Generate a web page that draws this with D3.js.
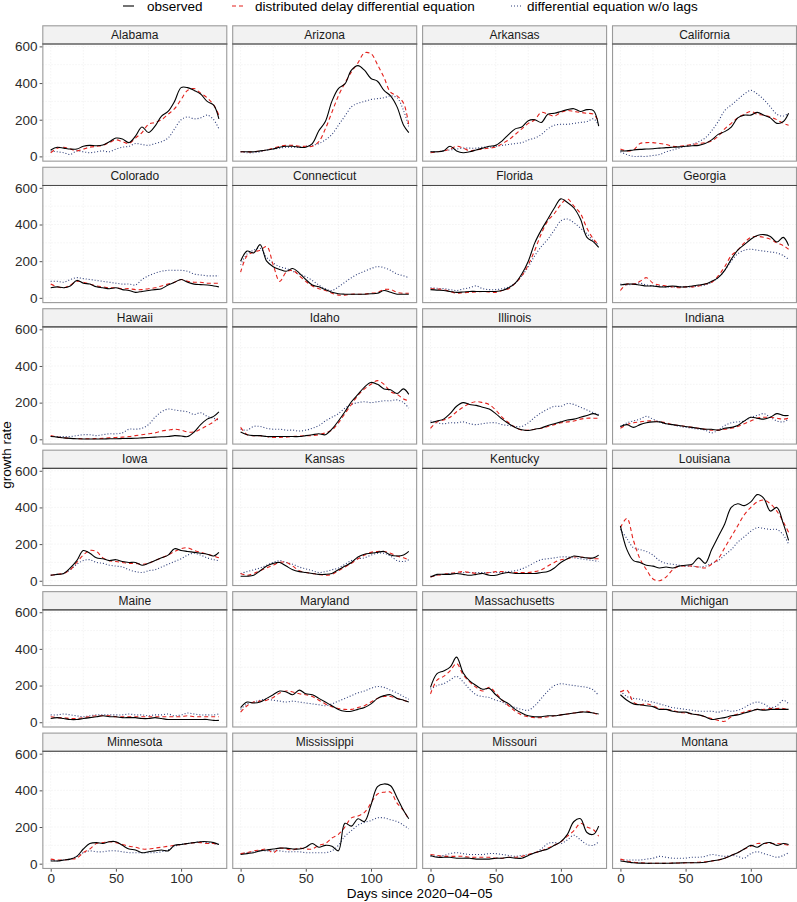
<!DOCTYPE html>
<html><head><meta charset="utf-8">
<script src="https://cdn.jsdelivr.net/npm/d3@7"></script>
<style>body{margin:0;background:#fff} svg{display:block} text{font-family:"Liberation Sans",Arial,Helvetica,sans-serif}</style>
</head><body><svg id="c" width="797" height="902"></svg>
<script>
const days = [0,5,10,15,20,25,30,35,40,45,50,55,60,65,70,75,80,85,90,95,100,105,110,115,120,125,129];
const states = ["Alabama","Arizona","Arkansas","California","Colorado","Connecticut","Florida","Georgia",
  "Hawaii","Idaho","Illinois","Indiana","Iowa","Kansas","Kentucky","Louisiana",
  "Maine","Maryland","Massachusetts","Michigan","Minnesota","Mississippi","Missouri","Montana"];
const seriesNames = ["observed","distributed delay differential equation","differential equation w/o lags"];
const xTicks = [0,50,100];
const yTicks = [0,200,400,600];
const xGrid = [0,25,50,75,100,125];
const yGrid = [0,100,200,300,400,500,600];

// observed growth rate, one row per state (order of `states`)
const observed = [
 [35,50,45,40,40,55,60,58,62,80,100,95,75,110,160,130,165,220,245,300,375,375,360,340,300,280,205],
 [25,25,25,30,35,40,50,55,55,50,50,70,140,190,300,370,395,470,495,470,425,410,360,330,270,170,130],
 [25,25,30,55,30,20,25,35,45,55,60,85,120,150,160,195,200,185,230,235,245,255,260,245,255,250,165],
 [30,30,35,38,40,42,45,48,50,52,55,58,60,70,90,120,135,160,210,225,225,240,225,210,180,190,235],
 [55,60,55,65,95,80,75,60,55,50,55,45,40,30,35,40,45,50,70,85,100,85,75,72,70,65,60],
 [200,255,245,290,200,170,155,145,160,135,100,70,60,45,30,22,20,20,20,20,22,25,40,30,20,20,20],
 [45,42,40,35,30,32,35,35,35,35,35,40,55,80,130,200,300,370,430,490,540,520,490,430,330,305,275],
 [70,75,75,70,65,65,60,60,65,60,60,65,70,75,90,110,150,210,260,290,320,340,345,335,305,330,285],
 [15,12,8,5,3,2,2,2,2,3,3,4,5,6,8,10,12,14,15,20,18,15,40,80,110,125,150],
 [40,25,20,20,15,15,15,15,15,15,20,25,30,25,55,100,150,205,245,285,310,300,275,270,250,275,245],
 [90,100,110,140,180,200,190,185,175,165,140,110,85,65,52,48,55,62,75,85,95,105,110,120,130,140,130],
 [70,80,65,80,90,95,95,85,80,75,70,65,60,55,55,50,60,65,75,100,120,115,110,120,140,130,130],
 [30,35,40,70,110,165,150,125,120,110,115,105,100,100,85,95,110,125,140,175,165,160,155,150,145,135,155],
 [25,25,30,55,80,95,100,80,60,50,45,40,35,35,40,60,80,100,130,145,150,155,160,140,135,140,160],
 [20,35,35,35,40,35,30,35,40,30,30,40,45,40,40,40,40,45,50,70,100,120,135,130,125,125,140],
 [300,170,110,100,85,80,70,75,70,80,85,90,125,95,170,240,310,400,420,410,430,470,450,380,400,310,220],
 [20,25,20,15,15,20,25,30,35,30,30,25,25,25,20,20,25,20,15,15,15,15,15,15,15,10,10],
 [80,110,105,110,130,150,170,165,150,175,155,150,130,110,90,70,60,60,70,80,100,130,145,150,130,120,110],
 [190,265,280,300,355,270,225,200,180,185,150,120,100,70,50,35,30,30,35,35,40,45,50,55,55,50,45],
 [150,120,100,95,90,85,70,70,60,55,55,45,40,30,15,20,25,35,40,50,60,70,65,70,70,70,70],
 [15,15,20,25,40,80,110,115,110,120,120,100,80,75,60,65,70,75,70,100,105,110,115,120,120,115,105],
 [50,55,60,70,75,80,85,85,80,80,90,110,90,100,95,70,220,205,245,230,320,420,435,425,360,290,245],
 [45,35,35,35,30,30,30,25,25,25,30,30,35,30,30,45,60,70,80,100,120,160,230,245,170,160,205],
 [15,10,5,3,2,2,2,2,3,4,5,5,5,8,15,20,30,45,60,80,100,90,110,115,100,110,105]
];
// distributed delay differential equation fit
const ddeFit = [
 [20,45,50,40,30,40,50,55,60,75,90,80,70,100,130,175,185,200,230,260,310,360,370,345,320,280,225],
 [25,25,25,30,35,45,55,60,60,55,55,55,80,150,240,330,400,460,510,565,560,500,430,350,330,290,170],
 [20,25,30,40,55,45,30,35,40,45,50,70,90,120,150,180,200,240,230,220,240,250,245,240,235,230,190],
 [40,30,35,70,75,75,70,65,55,55,60,65,70,75,85,110,150,180,210,230,245,230,225,215,200,180,170],
 [75,60,55,70,90,85,75,65,60,55,55,50,50,45,45,50,55,65,75,85,100,90,85,85,80,80,80],
 [140,230,250,260,280,180,90,140,150,120,90,65,50,40,25,15,15,20,20,20,25,30,45,45,30,25,25],
 [50,48,45,35,25,28,30,32,35,32,30,40,50,80,120,180,260,350,420,460,510,540,500,460,380,320,290],
 [40,75,75,90,110,80,70,65,60,55,60,60,65,75,85,120,170,230,260,300,330,335,330,320,300,285,265],
 [20,12,8,5,4,3,3,4,5,8,10,12,15,20,25,30,35,45,50,55,50,40,40,55,75,95,120],
 [65,25,20,20,15,10,10,12,15,18,20,20,25,35,50,90,140,190,240,275,300,320,300,260,245,220,210],
 [60,95,105,120,150,175,195,205,200,190,160,120,90,65,50,50,55,60,70,80,90,95,100,110,115,115,115],
 [60,80,90,95,100,100,95,90,80,75,70,65,60,55,50,50,55,60,70,85,100,115,120,120,115,110,115],
 [30,35,40,60,100,140,165,160,125,110,105,100,95,95,90,95,110,125,140,160,175,180,165,155,145,135,125],
 [40,30,40,55,70,85,100,100,80,55,45,40,35,30,35,55,75,95,120,140,155,160,160,150,135,125,115],
 [20,30,35,40,45,50,45,40,40,45,50,50,45,45,45,45,50,60,80,100,115,120,130,130,125,120,120],
 [290,340,220,120,60,10,0,20,60,80,80,80,75,70,90,120,180,240,300,360,400,430,440,420,380,320,265],
 [30,25,25,20,20,25,30,35,35,35,30,30,30,30,30,30,30,30,30,30,30,35,30,30,30,30,30],
 [55,90,110,115,120,135,160,170,165,155,150,140,120,100,85,75,70,70,80,90,110,130,140,140,130,120,110],
 [155,230,250,280,320,260,220,190,170,190,160,120,90,60,40,30,25,25,30,35,40,45,50,55,60,50,40],
 [165,175,110,95,100,90,75,70,65,55,50,45,40,30,20,10,5,30,45,55,65,70,70,75,75,75,65],
 [25,20,20,25,30,60,80,110,115,120,115,105,95,90,80,80,85,90,95,100,105,110,115,115,110,110,105],
 [55,60,70,75,80,60,85,80,75,85,80,80,100,110,140,160,200,250,260,280,330,380,390,390,330,290,240],
 [50,45,40,40,40,40,35,35,35,35,30,30,35,35,40,50,60,70,85,100,120,150,180,220,200,185,150],
 [25,15,8,5,3,2,2,2,3,4,5,6,8,10,15,20,30,45,60,80,95,110,110,110,110,105,100]
];
// differential equation without lags fit
const odeFit = [
 [30,25,20,10,30,25,20,25,30,25,40,50,55,70,65,60,70,80,100,150,200,215,205,210,225,200,150],
 [25,20,20,25,35,40,45,50,50,50,55,60,70,90,120,170,220,270,290,300,310,315,320,330,320,250,160],
 [25,25,30,35,40,45,45,45,50,50,55,60,65,70,75,90,100,120,150,170,175,175,180,185,190,205,170],
 [25,10,0,0,0,5,10,25,35,45,55,65,80,100,140,190,250,280,310,340,360,340,310,270,230,220,235],
 [90,90,85,100,110,105,100,95,90,85,80,75,75,70,100,120,135,145,150,150,150,145,130,125,120,120,120],
 [180,240,260,270,220,190,170,160,145,130,115,95,70,50,40,60,85,110,130,145,160,170,165,150,130,120,110],
 [55,52,50,45,40,48,55,65,50,45,45,50,60,80,120,170,230,280,320,370,420,430,410,380,350,310,290],
 [75,70,75,80,70,65,65,60,60,60,60,60,65,70,85,110,150,200,240,260,265,260,255,250,245,230,210],
 [15,15,15,15,20,25,25,20,25,30,30,35,55,55,60,80,120,150,165,160,155,150,135,145,125,115,105],
 [55,50,70,70,60,55,55,50,50,45,50,60,75,100,120,140,170,190,200,205,200,205,210,210,215,200,170],
 [100,90,85,90,90,95,85,80,85,90,90,80,75,70,70,90,120,145,165,180,180,195,190,175,160,145,135],
 [70,90,100,110,125,110,95,85,80,70,65,60,55,50,35,50,75,90,95,100,120,130,140,120,100,95,110],
 [30,35,40,60,90,110,115,100,95,85,80,75,60,50,45,55,60,75,90,105,120,140,150,140,125,115,110],
 [40,50,60,70,85,100,110,100,90,75,65,55,45,50,60,70,90,110,120,125,140,150,150,135,110,105,115],
 [25,30,35,40,40,45,45,45,45,45,45,45,50,55,65,80,100,115,120,125,130,130,125,120,115,110,105],
 [280,230,180,170,160,140,110,95,90,85,80,80,75,80,95,110,140,170,210,240,270,290,285,280,280,250,200],
 [40,40,45,40,35,30,35,40,40,40,40,40,45,40,40,35,40,40,45,35,40,50,45,40,40,40,45],
 [70,100,110,120,125,120,115,110,115,110,105,100,95,90,100,115,130,145,160,170,185,195,190,175,160,140,125],
 [180,200,210,230,250,220,180,150,140,135,120,110,90,80,70,65,90,130,170,200,210,205,200,195,190,175,145],
 [170,140,130,125,115,110,100,90,80,75,70,65,60,60,60,55,65,60,65,80,100,110,100,80,90,120,100],
 [20,15,20,25,40,60,70,65,65,70,70,65,60,60,60,60,60,65,75,95,105,110,115,120,115,110,105],
 [55,60,65,70,70,70,70,65,65,65,60,60,60,60,70,100,150,180,210,225,235,250,250,240,230,210,190],
 [40,40,45,55,60,55,50,50,50,55,55,50,45,40,45,50,60,80,110,115,110,130,155,130,105,100,120],
 [20,20,20,20,25,30,40,35,30,30,30,35,35,40,50,45,40,45,40,30,55,65,55,45,35,45,60]
];

const seriesData = [observed, ddeFit, odeFit];
const styles = [
  {color:"#000000", width:1.1, dash:null},
  {color:"#e3211c", width:1.1, dash:"4,3"},
  {color:"#2f3f7a", width:1.1, dash:"1,2"}
];

const svg = d3.select("#c");
const nCol = 4, nRow = 6;
const W = 185, H = 117.7, stripH = 18.7;
const left0 = 42.3, colPitch = 189.9;
const top0 = 25.3, rowPitch = 141.46;

const x = d3.scaleLinear().domain([-6.45, 135.45]).range([0, W]);
const y = d3.scaleLinear().domain([-29, 613]).range([H, 0]);
const line = d3.line().x((d,i)=>x(days[i])).y(d=>y(d)).curve(d3.curveCatmullRom.alpha(0.5));

states.forEach((st, k) => {
  const c = k % nCol, r = Math.floor(k / nCol);
  const px = left0 + c*colPitch, sy = top0 + r*rowPitch, py = sy + stripH;
  // strip
  const gs = svg.append("g").attr("transform", `translate(${px},${sy})`);
  gs.append("rect").attr("x",0.5).attr("y",0.5).attr("width",W-1).attr("height",stripH)
    .attr("fill","#f2f2f2").attr("stroke","#9a9a9a").attr("stroke-width",1.1);
  gs.append("text").attr("x",W/2).attr("y",stripH/2+4.3).attr("text-anchor","middle")
    .attr("font-size","12px").attr("fill","#1a1a1a").text(st);

  const g = svg.append("g").attr("transform", `translate(${px},${py})`);
  g.append("rect").attr("width",W).attr("height",H).attr("fill","#fff");
  // grid
  g.selectAll(".gx").data(xGrid).join("line")
    .attr("x1",d=>x(d)).attr("x2",d=>x(d)).attr("y1",0).attr("y2",H)
    .attr("stroke","#ededed").attr("stroke-width",0.6).attr("stroke-dasharray","1.5,1.5");
  g.selectAll(".gy").data(yGrid).join("line")
    .attr("y1",d=>y(d)).attr("y2",d=>y(d)).attr("x1",0).attr("x2",W)
    .attr("stroke","#ededed").attr("stroke-width",0.6).attr("stroke-dasharray","1.5,1.5");
  // series
  [2,1,0].forEach(s => {
    const st_ = styles[s];
    g.append("path").attr("d", line(seriesData[s][k])).attr("fill","none")
      .attr("stroke", st_.color).attr("stroke-width", st_.width)
      .attr("stroke-dasharray", st_.dash).attr("stroke-linejoin","round");
  });
  // border
  g.append("rect").attr("x",0.55).attr("y",0).attr("width",W-1.1).attr("height",H-0.55)
    .attr("fill","none").attr("stroke","#9a9a9a").attr("stroke-width",1.1);
  g.append("line").attr("x1",0).attr("x2",W).attr("y1",0).attr("y2",0)
    .attr("stroke","#4a4a4a").attr("stroke-width",1.1);

  if (c === 0) {
    const ax = g.append("g").call(d3.axisLeft(y).tickValues(yTicks).tickSize(2.7).tickPadding(2).tickFormat(d3.format("d")));
    ax.select(".domain").remove();
    ax.selectAll("line").attr("stroke","#555");
    ax.selectAll("text").attr("font-size","13.5px").attr("fill","#2b2b2b").attr("font-family",null);
  }
  if (r === nRow-1) {
    const ax = g.append("g").attr("transform",`translate(0,${H})`)
      .call(d3.axisBottom(x).tickValues(xTicks).tickSize(2.7).tickPadding(2).tickFormat(d3.format("d")));
    ax.select(".domain").remove();
    ax.selectAll("line").attr("stroke","#555");
    ax.selectAll("text").attr("font-size","13.5px").attr("fill","#2b2b2b").attr("font-family",null);
  }
});

// axis titles
const plotCenterX = left0 + (3*colPitch + W)/2;
svg.append("text").attr("x", plotCenterX).attr("y", 898).attr("text-anchor","middle")
  .attr("font-size","13.5px").attr("fill","#000").text("Days since 2020\u221204\u221205");
svg.append("text").attr("transform","translate(11,455) rotate(-90)").attr("text-anchor","middle")
  .attr("font-size","13.5px").attr("fill","#000").text("growth rate");

// legend
const legendKeys = [[123,134,147],[232,244,255],[511,523,527]];
seriesNames.forEach((nm, s) => {
  const [a,b,t] = legendKeys[s];
  const st_ = styles[s];
  svg.append("line").attr("x1",a).attr("x2",b).attr("y1",6).attr("y2",6)
    .attr("stroke",st_.color).attr("stroke-width",st_.width).attr("stroke-dasharray",st_.dash);
  svg.append("text").attr("x",t).attr("y",10.5).attr("font-size","13.5px").attr("fill","#000").text(nm);
});
</script></body></html>
